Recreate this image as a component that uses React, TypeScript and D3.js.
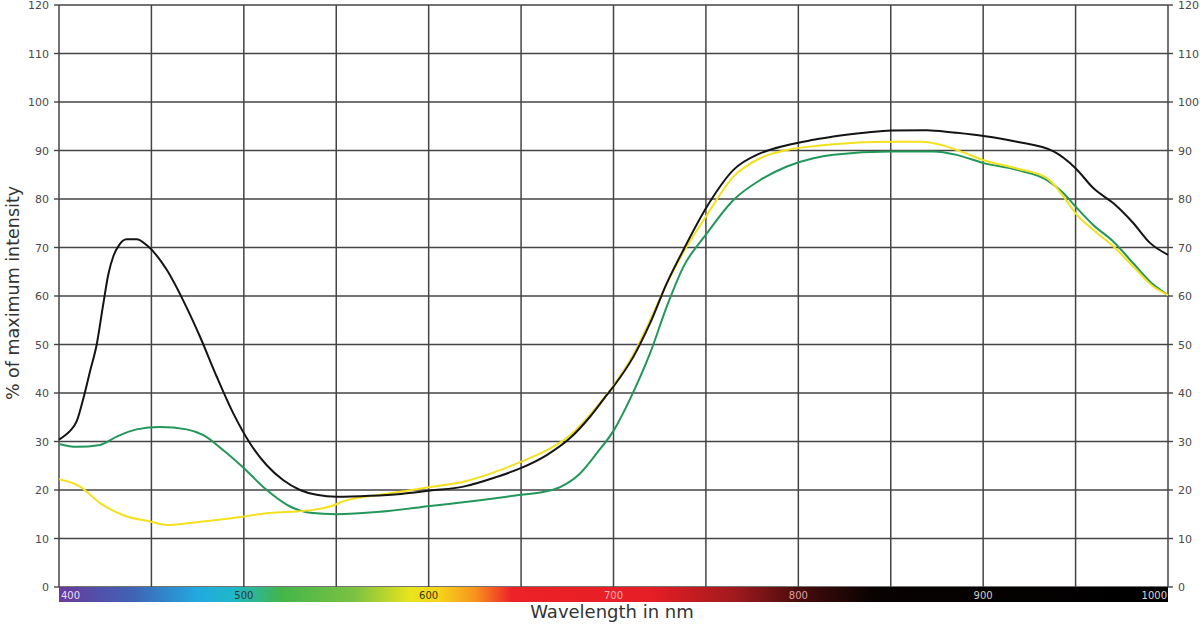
import React from "react";
import * as d3 from "d3";

// ---- Data ----
const blackNm = [400, 403, 406, 409.6, 413.6, 416.8, 420.4, 423.6, 426.7, 429.5, 432.5, 436.6, 442, 447.4, 458.3, 467.3, 476.3, 485.3, 494.3, 503.4, 512.4, 521.4, 530.4, 539.4, 550.3, 568.3, 585, 600.8, 618.8, 636.8, 649.8, 663.9, 676.5, 687.3, 696.4, 700.3, 710.8, 719.8, 728.8, 737.8, 750.5, 764.9, 779.3, 793.8, 808.2, 819, 837, 850.2, 869.5, 884, 900.2, 918.2, 938.1, 950.1, 959.7, 970.5, 981.3, 990.4, 1000];
const blackVal = [30.4, 31.2, 32.2, 34.2, 39.5, 44.5, 50, 57.5, 64.5, 68.3, 70.5, 71.7, 71.7, 70.5, 65.4, 59, 51.6, 43.4, 35.8, 29.6, 25.1, 22, 20, 19, 18.6, 18.8, 19.2, 19.9, 20.7, 22.7, 24.5, 27.2, 30.7, 35.1, 39.6, 41.5, 47.5, 54.4, 62.6, 69.5, 78.4, 86, 89.4, 91.1, 92.2, 92.9, 93.7, 94.1, 94.2, 93.7, 93, 91.8, 89.8, 86.3, 82.2, 79.1, 75, 70.9, 68.5];

const greenNm = [400, 409.6, 422.2, 431.2, 442, 454.7, 469.1, 478.1, 488.9, 499.2, 512.4, 525, 535.8, 550.3, 573.7, 600.8, 627.8, 649.8, 662, 671.1, 681.9, 691, 700.3, 709, 719.8, 728.8, 737.8, 750.5, 764.9, 779.3, 793.8, 808.2, 819, 850.2, 873, 885.7, 900.2, 918.2, 934.5, 943.5, 950.1, 959.7, 970.5, 981.3, 992.2, 1000];
const greenVal = [29.5, 28.9, 29.3, 31, 32.5, 33, 32.5, 31.3, 28.2, 24.8, 20, 16.6, 15.3, 15, 15.5, 16.7, 17.9, 19, 19.6, 20.6, 23.4, 27.6, 32.4, 38.8, 48.2, 57.8, 66, 72.9, 79.8, 83.9, 86.7, 88.4, 89.1, 89.8, 89.8, 89.1, 87.4, 86, 83.9, 81.2, 78.4, 74.6, 71.2, 66.7, 62.3, 60.2];

const yellowNm = [400, 411.4, 422.2, 434.8, 449.2, 458.3, 470.9, 485.3, 499.2, 512.4, 525, 537.6, 546.6, 555, 573.7, 600.8, 618.8, 649.8, 663.9, 676.5, 691, 700.3, 710.8, 719.8, 728.8, 737.8, 750.5, 764.9, 779.3, 793.8, 808.2, 819, 850.2, 866, 878, 890, 900.2, 918.2, 934.5, 943.5, 950.1, 959.7, 970.5, 981.3, 992.2, 1000];
const yellowVal = [22.2, 20.7, 17.3, 14.8, 13.5, 12.8, 13.2, 13.8, 14.5, 15.2, 15.5, 15.9, 16.6, 17.8, 19, 20.6, 21.7, 25.8, 28.2, 31.3, 37.2, 41.7, 48, 55, 62.5, 69, 76.7, 84.6, 88.4, 90.1, 90.9, 91.3, 91.8, 91.8, 91.1, 89.5, 88, 86.3, 84.3, 80.5, 77, 73.6, 70.2, 66, 61.9, 60.2];

const yTicks = [0, 10, 20, 30, 40, 50, 60, 70, 80, 90, 100, 110, 120];
const xGrid = [400, 450, 500, 550, 600, 650, 700, 750, 800, 850, 900, 950, 1000];
const spectrumLabels = ["400", "500", "600", "700", "800", "900", "1000"];

const spectrumStops: [number, string][] = [
  [400, "#6a3a9c"],
  [440, "#3f63b4"],
  [475, "#22a9e0"],
  [495, "#1fb8c8"],
  [520, "#43b54a"],
  [560, "#7cc242"],
  [590, "#e8e51c"],
  [605, "#f6d619"],
  [625, "#f7941d"],
  [645, "#ed2128"],
  [720, "#e61e25"],
  [765, "#a11a1e"],
  [800, "#4a0c0c"],
  [840, "#080202"],
  [1000, "#000000"],
];
const labelColors = ["#e6dcf0", "#2a3a3a", "#3a3410", "#ffb0b8", "#d9a0a0", "#cfcfcf", "#d8d8d8"];

const W = 1200;
const H = 624;
const left = 59;
const right = 1168;
const top = 5;
const bottom = 587;

export default function App() {
  const x = d3.scaleLinear().domain([400, 1000]).range([left, right]);
  const y = d3.scaleLinear().domain([0, 120]).range([bottom, top]);

  const line = (nm: number[], v: number[]) =>
    d3
      .line<number>()
      .x((_, i) => x(nm[i]))
      .y((d) => y(d))
      .curve(d3.curveMonotoneX)(v) || "";

  const font = "'DejaVu Sans', Verdana, sans-serif";
  const gridColor = "#444";

  return (
    <svg
      width={W}
      height={H}
      style={{ position: "absolute", left: 0, top: 0, background: "#fff" }}
    >
      <defs>
        <linearGradient id="spectrum" x1="0" x2="1" y1="0" y2="0">
          {spectrumStops.map(([nm, c], i) => (
            <stop key={i} offset={`${((nm - 400) / 600) * 100}%`} stopColor={c} />
          ))}
        </linearGradient>
      </defs>

      {/* grid */}
      {yTicks.map((t) => (
        <line key={"h" + t} x1={left} x2={right} y1={y(t)} y2={y(t)} stroke={gridColor} strokeWidth={1.5} />
      ))}
      {xGrid.map((t) => (
        <line key={"v" + t} x1={x(t)} x2={x(t)} y1={top} y2={bottom} stroke={gridColor} strokeWidth={1.5} />
      ))}

      {/* tick marks */}
      {yTicks.map((t) => (
        <g key={"tk" + t}>
          <line x1={left - 5} x2={left} y1={y(t)} y2={y(t)} stroke={gridColor} strokeWidth={1.4} />
          <line x1={right} x2={right + 5} y1={y(t)} y2={y(t)} stroke={gridColor} strokeWidth={1.4} />
        </g>
      ))}

      {/* tick labels */}
      {yTicks.map((t) => (
        <g key={"tl" + t} fontFamily={font} fontSize={11} fill="#4a4a4a">
          <text x={left - 10} y={y(t) + 4} textAnchor="end">
            {t}
          </text>
          <text x={right + 10} y={y(t) + 4} textAnchor="start">
            {t}
          </text>
        </g>
      ))}

      {/* curves */}
      <path d={line(greenNm, greenVal)} fill="none" stroke="#22975a" strokeWidth={2} />
      <path d={line(yellowNm, yellowVal)} fill="none" stroke="#f4e01c" strokeWidth={2} />
      <path d={line(blackNm, blackVal)} fill="none" stroke="#141414" strokeWidth={2} />

      {/* spectrum bar */}
      <rect x={left} y={bottom} width={right - left} height={15} fill="url(#spectrum)" />
      {spectrumLabels.map((l, i) => {
        const v = +l;
        const anchor = i === 0 ? "start" : i === spectrumLabels.length - 1 ? "end" : "middle";
        const px = i === 0 ? x(v) + 2 : i === spectrumLabels.length - 1 ? x(v) - 1 : x(v);
        return (
          <text
            key={l}
            x={px}
            y={bottom + 12}
            textAnchor={anchor}
            fontFamily={font}
            fontSize={10}
            fill={labelColors[i]}
          >
            {l}
          </text>
        );
      })}

      {/* axis titles */}
      <text x={612} y={618} textAnchor="middle" fontFamily={font} fontSize={18} fill="#333">
        Wavelength in nm
      </text>
      <text
        transform={`translate(19, 293) rotate(-90)`}
        textAnchor="middle"
        fontFamily={font}
        fontSize={17.5}
        fill="#333"
      >
        % of maximum intensity
      </text>
    </svg>
  );
}
